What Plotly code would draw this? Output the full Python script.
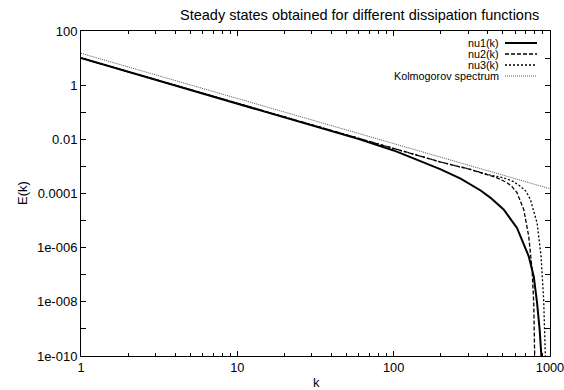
import plotly.graph_objects as go

# ---- data ----
k_nu1 = [1, 10, 30, 40, 60, 100, 150, 200, 268, 309, 360, 415, 505, 615, 731, 787, 827, 859, 881]
E_nu1 = [10, 0.215, 0.0339, 0.0209, 0.0102, 3.89e-3, 1.58e-3, 7.8e-4, 3.55e-4, 2.24e-4,
         1.29e-4, 7.05e-5, 2.57e-5, 5.37e-6, 4.79e-7, 8.71e-8, 8.91e-9, 9.12e-10, 1e-10]

k_nu2 = [1, 10, 100, 200, 309, 400, 458, 531, 570, 615, 679, 731, 768, 787, 798]
E_nu2 = [10, 0.215, 4.68e-3, 1.45e-3, 7.76e-4, 5.01e-4, 3.80e-4, 2.51e-4, 1.82e-4, 1.07e-4,
         2.57e-5, 2.63e-6, 1.55e-7, 8.91e-9, 1e-10]

k_nu3 = [1, 10, 100, 200, 309, 400, 505, 580, 646, 700, 749, 827, 877, 911, 934]
E_nu3 = [10, 0.215, 4.68e-3, 1.45e-3, 7.76e-4, 5.01e-4, 3.80e-4, 2.82e-4, 1.86e-4, 1.23e-4,
         6.03e-5, 8.13e-6, 4.79e-7, 1.17e-8, 1e-10]

k_kol = [1, 1000]
E_kol = [15, 1.5e-4]

series_names = ["nu1(k)", "nu2(k)", "nu3(k)", "Kolmogorov spectrum"]

x_tickvals = [1, 10, 100, 1000]
x_ticktext = ["1", "10", "100", "1000"]
x_minor_tickvals = [2, 3, 4, 5, 6, 7, 8, 9, 20, 30, 40, 50, 60, 70, 80, 90,
                    200, 300, 400, 500, 600, 700, 800, 900]
y_tickvals = [1e2, 1e1, 1e0, 1e-1, 1e-2, 1e-3, 1e-4, 1e-5, 1e-6, 1e-7, 1e-8, 1e-9, 1e-10]
y_ticktext = ["100", "", "1", "", "0.01", "", "0.0001", "", "1e-006", "", "1e-008", "", "1e-010"]

FONT = "Liberation Sans, Arial, Helvetica, sans-serif"

W, H = 564, 390
ML, MR, MT, MB = 81, 14, 31, 34
PW, PH = W - ML - MR, H - MT - MB


def px_x(x):
    return (x - ML) / PW


def px_y(y):
    return (H - MB - y) / PH


styles = [
    dict(color="black", width=2, dash="solid"),
    dict(color="black", width=1.3, dash="4px,2px"),
    dict(color="black", width=1.3, dash="2px,2px"),
    dict(color="#555555", width=1, dash="1px,1px"),
]

fig = go.Figure()
for (kx, ey), name, st in zip([(k_nu1, E_nu1), (k_nu2, E_nu2), (k_nu3, E_nu3), (k_kol, E_kol)],
                               series_names, styles):
    fig.add_trace(go.Scatter(x=kx, y=ey, mode="lines", name=name, line=st,
                             showlegend=False))

annotations = []
shapes = []
# custom gnuplot-like legend (text right aligned, sample to the right)
legend_rows_px = [43, 54, 65, 76]
for name, st, ypx in zip(series_names, styles, legend_rows_px):
    annotations.append(dict(xref="paper", yref="paper", x=px_x(501), y=px_y(ypx), text=name,
                            showarrow=False, xanchor="right", yanchor="middle",
                            font=dict(family=FONT, size=10.8, color="black")))
    shapes.append(dict(type="line", xref="paper", yref="paper", x0=px_x(505), x1=px_x(537),
                       y0=px_y(ypx), y1=px_y(ypx), line=st))

annotations += [
    dict(xref="paper", yref="paper", x=px_x(359), y=px_y(15),
         text="Steady states obtained for different dissipation functions",
         showarrow=False, xanchor="center", yanchor="middle",
         font=dict(family=FONT, size=14.5, color="black")),
    dict(xref="paper", yref="paper", x=px_x(22), y=px_y(193), text="E(k)", textangle=-90,
         showarrow=False, xanchor="center", yanchor="middle",
         font=dict(family=FONT, size=13, color="black")),
    dict(xref="paper", yref="paper", x=px_x(316), y=px_y(382), text="k",
         showarrow=False, xanchor="center", yanchor="middle",
         font=dict(family=FONT, size=13, color="black")),
]

fig.update_layout(
    width=W, height=H,
    margin=dict(l=ML, r=MR, t=MT, b=MB, autoexpand=False),
    paper_bgcolor="white", plot_bgcolor="white",
    font=dict(family=FONT, size=12, color="black"),
    annotations=annotations, shapes=shapes,
)

fig.update_xaxes(
    type="log", range=[0, 3], showgrid=False, zeroline=False, automargin=False,
    showline=True, linecolor="black", linewidth=1, mirror="ticks",
    ticks="inside", ticklen=5, tickcolor="black",
    tickvals=x_tickvals, ticktext=x_ticktext, ticklabeloverflow="allow",
    tickfont=dict(family=FONT, size=12.8),
    minor=dict(ticks="inside", ticklen=3, tickcolor="black",
               tickvals=x_minor_tickvals, showgrid=False),
)
fig.update_yaxes(
    type="log", range=[-10, 2], showgrid=False, zeroline=False, automargin=False,
    showline=True, linecolor="black", linewidth=1, mirror="ticks",
    ticks="inside", ticklen=5, tickcolor="black",
    tickvals=y_tickvals, ticktext=y_ticktext, ticklabeloverflow="allow",
    tickfont=dict(family=FONT, size=13),
)

fig.write_html("out.html")
